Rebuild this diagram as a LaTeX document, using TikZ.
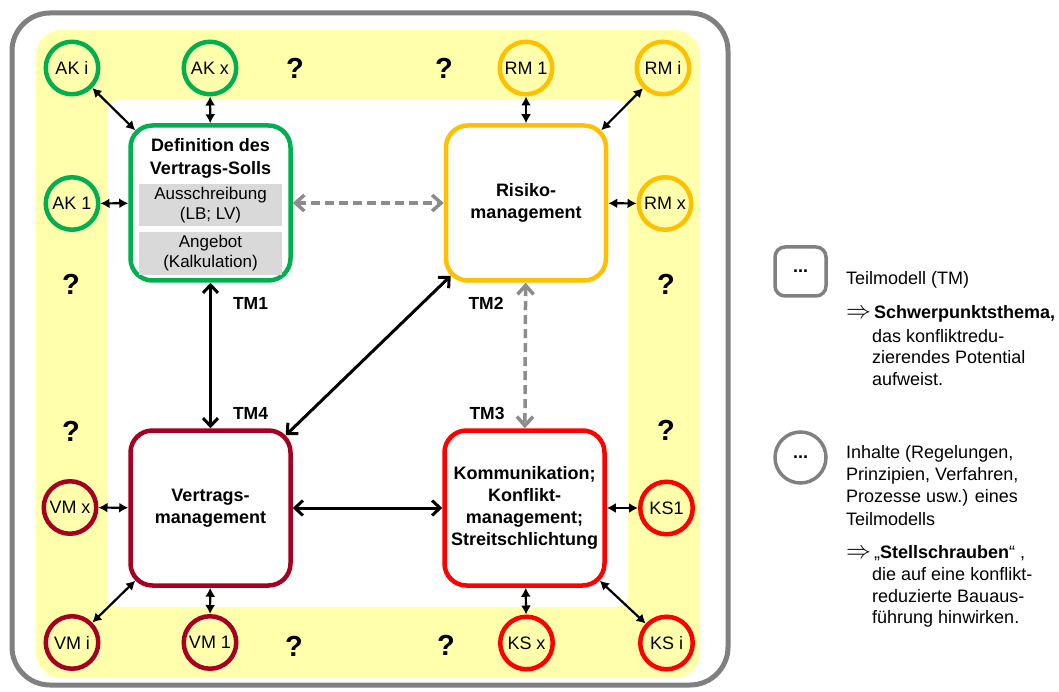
\documentclass[tikz,border=0pt]{standalone}
\usepackage{fontspec}
\setmainfont{Liberation Sans}
\usetikzlibrary{arrows.meta,calc}

\definecolor{tmgreen}{RGB}{0,176,80}
\definecolor{tmorange}{RGB}{255,192,0}
\definecolor{tmdarkred}{RGB}{165,0,33}
\definecolor{tmred}{RGB}{255,0,0}
\definecolor{framegray}{RGB}{128,128,128}
\definecolor{dashgray}{RGB}{140,140,140}
\definecolor{subgray}{RGB}{217,217,217}
\definecolor{zoneyellow}{RGB}{255,255,172}

\begin{document}
\begin{tikzpicture}[x=1pt,y=-1pt,
  model/.style={draw=#1, line width=4.5pt, rounded corners=22pt, fill=white,
    minimum width=160pt, minimum height=155pt, inner sep=0pt, align=center,
    font=\fontsize{18}{22}\selectfont\bfseries},
  item/.style={draw=#1, line width=4.5pt, circle, minimum size=52.5pt,
    inner sep=0pt, font=\fontsize{18}{22}\selectfont},
  subbox/.style={fill=subgray, minimum width=143pt, inner sep=0pt, align=center,
    font=\fontsize{17}{20}\selectfont},
  qmark/.style={inner sep=0pt, font=\fontsize{29}{30}\selectfont\bfseries},
  tmlabel/.style={inner sep=0pt, font=\fontsize{17.5}{20}\selectfont\bfseries},
  link/.style={line width=2.2pt, {Latex[length=9pt,width=10pt]}-{Latex[length=9pt,width=10pt]}},
  bond/.style={line width=3pt, {Straight Barb[length=8pt,width=15pt]}-{Straight Barb[length=8pt,width=15pt]}},
  loose/.style={line width=3.5pt, draw=dashgray, dash pattern=on 9pt off 5pt,
    {Straight Barb[length=9pt,width=16pt]}-{Straight Barb[length=9pt,width=16pt]}},
  legendmark/.style={draw=framegray, line width=3.5pt, font=\fontsize{18}{22}\selectfont\bfseries},
  legtext/.style={anchor=base west, inner sep=0pt, font=\fontsize{18}{22}\selectfont},
]
\newcommand{\impl}{{\fontsize{23}{23}\selectfont$\Rightarrow$}}
\useasboundingbox (0,0) rectangle (1059,692);

% frame, field of contents and central area
\draw[framegray, line width=5pt, rounded corners=38pt] (12,13) rectangle (728,685);
\fill[zoneyellow, rounded corners=25pt] (36,30) rectangle (700,678);
\fill[white, rounded corners=12pt] (107,100) rectangle (628,607);

% the four sub-models
\node[model=tmgreen] (TM1) at (210.5,203) {};
\node[model=tmorange] (TM2) at (526,203) {Risiko-\\management};
\node[model=tmdarkred] (TM4) at (210.5,508) {Vertrags-\\management};
\node[model=tmred] (TM3) at (524.5,508) {Kommunikation;\\Konflikt-\\management;\\Streitschlichtung};

\node[inner sep=0pt, align=center, font=\fontsize{18}{23}\selectfont\bfseries] (tmtitle) at (210.5,158.5) {Definition des\\Vertrags-Solls};
\node[subbox, minimum height=42pt] (sub1) at (210.5,205.5) {Ausschreibung\\(LB; LV)};
\node[subbox, minimum height=43pt] (sub2) at (210.5,253.5) {Angebot\\(Kalkulation)};

% labels
\node[tmlabel] (lab1) at (250.5,303) {TM1};
\node[tmlabel] (lab2) at (486,303) {TM2};
\node[tmlabel] (lab4) at (250.5,413) {TM4};
\node[tmlabel] (lab3) at (487,413) {TM3};

% contents
\node[item=tmgreen] (AKi) at (72,68) {AK i};
\node[item=tmgreen] (AKx) at (210,68) {AK x};
\node[item=tmgreen] (AK1) at (72,203.5) {AK 1};
\node[item=tmorange] (RM1) at (526,68) {RM 1};
\node[item=tmorange] (RMi) at (663,68) {RM i};
\node[item=tmorange] (RMx) at (665,203.5) {RM x};
\node[item=tmdarkred] (VMx) at (70,507.5) {VM x};
\node[item=tmdarkred] (VMi) at (72,642.5) {VM i};
\node[item=tmdarkred] (VM1) at (210,642.5) {VM 1};
\node[item=tmred] (KS1) at (666.5,508) {KS1};
\node[item=tmred] (KSx) at (526.5,643) {KS x};
\node[item=tmred] (KSi) at (666.5,643) {KS i};

% open questions
\node[qmark] (q1) at (295,68) {?};
\node[qmark] (q2) at (444,68) {?};
\node[qmark] (q3) at (71,284) {?};
\node[qmark] (q4) at (666,284) {?};
\node[qmark] (q5) at (71,431) {?};
\node[qmark] (q6) at (666,430) {?};
\node[qmark] (q7) at (294,646) {?};
\node[qmark] (q8) at (446,645) {?};

% points on the rounded corners
\coordinate (TM1nw) at ($(TM1.north west)+(7,7)$);
\coordinate (TM2ne) at ($(TM2.north east)+(-7,7)$);
\coordinate (TM2sw) at ($(TM2.south west)+(7,-7)$);
\coordinate (TM4ne) at ($(TM4.north east)+(-7,7)$);
\coordinate (TM4sw) at ($(TM4.south west)+(7,-7)$);
\coordinate (TM3se) at ($(TM3.south east)+(-7,-7)$);

% contents attached to their sub-model
\draw[link] (AKi) -- (TM1nw);
\draw[link] (AKx) -- (TM1);
\draw[link] (AK1) -- (TM1);
\draw[link] (RM1) -- (TM2);
\draw[link] (RMi) -- (TM2ne);
\draw[link] (RMx) -- (TM2);
\draw[link] (VMx) -- (TM4);
\draw[link] (VMi) -- (TM4sw);
\draw[link] (VM1) -- (TM4);
\draw[link] (KS1) -- (TM3);
\draw[link] (KSx) -- (TM3);
\draw[link] (KSi) -- (TM3se);

% relations between the sub-models
\draw[bond] (TM1) -- (TM4);
\draw[bond] (TM2sw) -- (TM4ne);
\draw[bond] (TM4) -- (TM3);
\draw[loose] (TM1) -- (TM2);
\draw[loose] (TM2) -- (TM3);

% legend
\node[legendmark, rounded corners=10pt, minimum width=51pt, minimum height=49pt, inner sep=0pt] (legbox) at (800.5,271.5) {...};
\node[legendmark, circle, minimum size=51pt, inner sep=0pt] (legcirc) at (800.5,457.5) {...};

\node[legtext] (t1) at (846,285) {Teilmodell (TM)};
\node[legtext] (t2) at (846,319) {\impl\,\textbf{Schwerpunktsthema,}};
\node[legtext] (t3) at (872,342) {das konfliktredu-};
\node[legtext] (t4) at (872,363) {zierendes Potential};
\node[legtext] (t5) at (872,385) {aufweist.};

\node[legtext] (t6) at (846,458) {Inhalte (Regelungen,};
\node[legtext] (t7) at (846,480) {Prinzipien, Verfahren,};
\node[legtext] (t8) at (846,502) {Prozesse usw.) eines};
\node[legtext] (t9) at (846,525) {Teilmodells};
\node[legtext] (t10) at (846,558) {\impl\,„\textbf{Stellschrauben}“ ,};
\node[legtext] (t11) at (872,580) {die auf eine konflikt-};
\node[legtext] (t12) at (872,602) {reduzierte Bauaus-};
\node[legtext] (t13) at (872,623) {führung hinwirken.};
\end{tikzpicture}
\end{document}
